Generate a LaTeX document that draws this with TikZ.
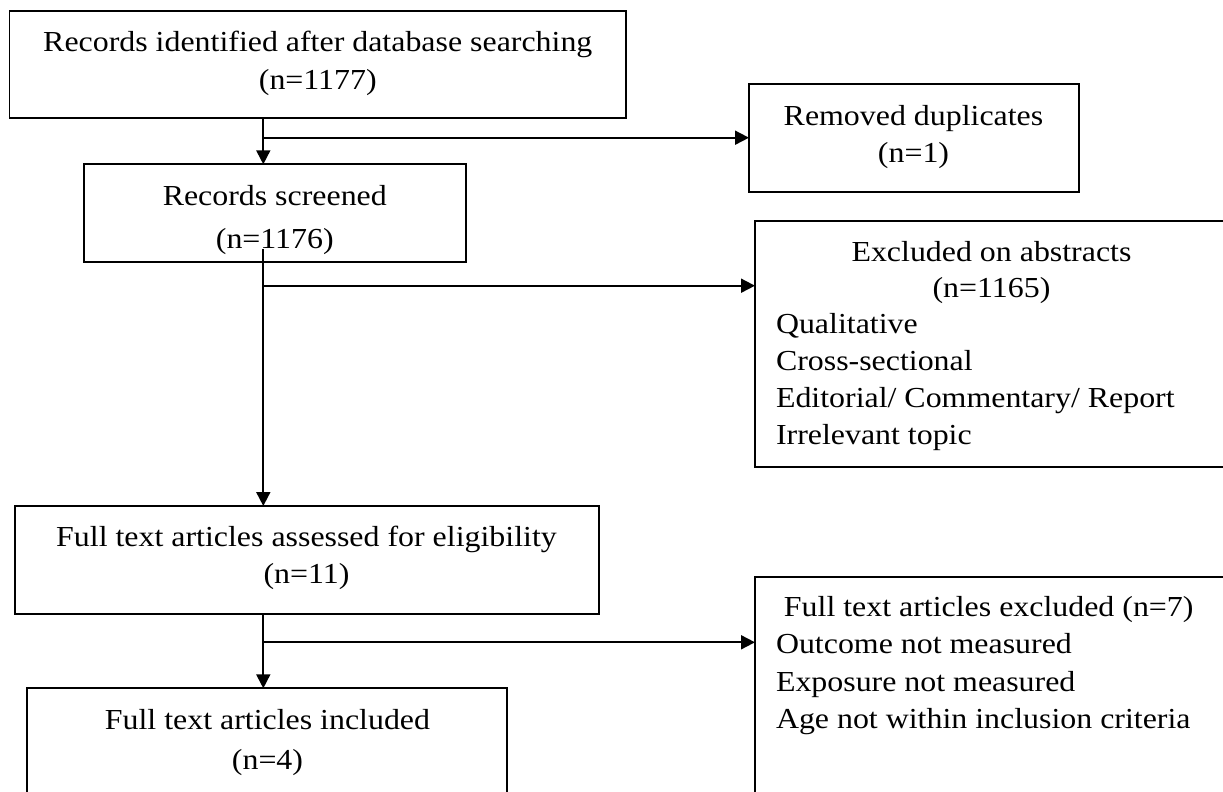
\documentclass[tikz,border=0pt]{standalone}
\usepackage{fontspec}
\setmainfont{Liberation Serif}[FakeStretch=1.1]
\usetikzlibrary{arrows.meta}
\newcommand{\mytab}[3]{\fontsize{29}{#1}\selectfont\begin{tabular}[t]{@{}#2@{}}#3\end{tabular}}
\begin{document}
\begin{tikzpicture}[x=1pt,y=-1pt,
  box/.style={draw, line width=1.8pt, inner sep=0pt, outer sep=0pt},
  txt/.style={inner sep=0pt, outer sep=0pt, anchor=base},
  ltxt/.style={inner sep=0pt, outer sep=0pt, anchor=base west},
  arr/.style={line width=1.8pt, -{Triangle[length=14pt,width=14pt]}}]
\useasboundingbox (0,0) rectangle (1223,792);
\clip (0,0) rectangle (1223,792);
% boxes
\node[box, minimum width=616.5pt, minimum height=107.3pt] (rec) at (317.75,64.65) {};
\node[box, minimum width=382pt, minimum height=98pt] (scr) at (274.8,213.3) {};
\node[box, minimum width=329.7pt, minimum height=108.3pt] (dup) at (913.85,138.15) {};
\node[box, minimum width=485pt, minimum height=245.7pt] (exa) at (997.5,343.85) {};
\node[box, minimum width=584.4pt, minimum height=108.3pt] (ft) at (306.8,560.15) {};
\node[box, minimum width=480.1pt, minimum height=121.7pt] (inc) at (266.95,749.15) {};
\node[box, minimum width=485pt, minimum height=232.7pt] (ftx) at (997.5,693.65) {};
% texts
\node[txt] (trec) at (317.8,51.7) {\mytab{37.6pt}{c}{Records identified after database searching\\(n=1177)}};
\node[txt] (tscr) at (274.8,205.5) {\mytab{42.8pt}{c}{Records screened\\(n=1176)}};
\node[txt] (tdup) at (913.5,125) {\mytab{37.3pt}{c}{Removed duplicates\\(n=1)}};
\node[txt] (texa) at (991.5,261) {\mytab{36.3pt}{c}{Excluded on abstracts\\(n=1165)}};
\node[ltxt] (lexa) at (776,333.3) {\mytab{37pt}{l}{Qualitative\\Cross-sectional\\Editorial/ Commentary/ Report\\Irrelevant topic}};
\node[txt] (tft) at (306.5,546.7) {\mytab{36.6pt}{c}{Full text articles assessed for eligibility\\(n=11)}};
\node[txt] (tinc) at (267.5,729.5) {\mytab{39.5pt}{c}{Full text articles included\\(n=4)}};
\node[ltxt] (lftx) at (776,616.7) {\mytab{37.2pt}{l}{\ Full text articles excluded (n=7)\\Outcome not measured\\Exposure not measured\\Age not within inclusion criteria}};
% junctions
\coordinate (j1) at (263.3,137.7);
\coordinate (s2) at (263.3,249);
\coordinate (j2) at (263.3,285.7);
\coordinate (j3) at (263.3,642.3);
% connectors
\draw[arr] (rec.south -| j1) -- (scr.north -| j1);
\draw[arr] (j1) -- (j1 -| dup.west);
\draw[arr] (s2) -- (ft.north -| s2);
\draw[arr] (j2) -- (j2 -| exa.west);
\draw[arr] (ft.south -| j3) -- (inc.north -| j3);
\draw[arr] (j3) -- (j3 -| ftx.west);
\end{tikzpicture}
\end{document}
